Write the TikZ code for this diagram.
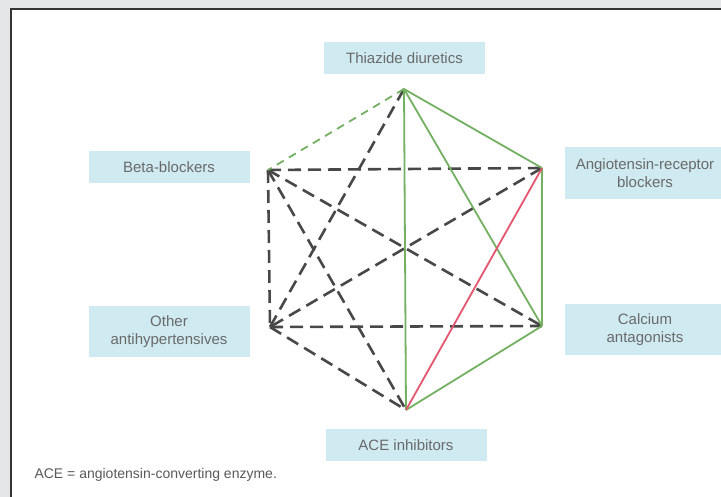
\documentclass[tikz,border=0pt]{standalone}
\usepackage{fontspec}
\setmainfont{Liberation Sans}
\usepackage{tikz}
\usepackage{color}

\definecolor{framegray}{HTML}{E4E6E8}
\definecolor{boxblue}{HTML}{CFEAF1}
\definecolor{labelgray}{HTML}{6A6A6A}
\definecolor{combogreen}{HTML}{74B062}
\definecolor{combored}{HTML}{E2566E}
\definecolor{combodark}{HTML}{484848}

\tikzset{
  drugbox/.style={fill=boxblue, text=labelgray, minimum width=161pt,
    minimum height=32pt, align=center, inner sep=2pt,
    font=\fontsize{15}{18}\selectfont},
  preferred/.style={combogreen, line width=1.8pt},
  useful/.style={combogreen, line width=1.8pt, dash pattern=on 8pt off 6pt},
  notrec/.style={combored, line width=1.8pt},
  possible/.style={combodark, line width=2.6pt, dash pattern=on 13pt off 7pt},
}

\begin{document}
\begin{tikzpicture}[x=1pt,y=-1pt]
    \useasboundingbox (0,0) rectangle (721,497);
    \fill[framegray] (0,0) rectangle (721,497);
    \draw[fill=white, draw=black!80, line width=1.6pt] (11,9) rectangle (740,520);

    % Drug classes
    \node[drugbox] (thiazide) at (404.5,58.5) {Thiazide diuretics};
    \node[drugbox] (beta) at (169,167) {Beta-blockers};
    \node[drugbox, minimum height=52pt] (arb) at (645,173) {Angiotensin-receptor\\blockers};
    \node[drugbox, minimum height=51pt] (other) at (169,331.5) {Other\\antihypertensives};
    \node[drugbox, minimum height=51pt] (calcium) at (645,329.5) {Calcium\\antagonists};
    \node[drugbox] (ace) at (406,445) {ACE inhibitors};

    % Corners of the hexagon
    \coordinate (T) at (404,89);
    \coordinate (B) at (268,170);
    \coordinate (A) at (542,168);
    \coordinate (O) at (270,327);
    \coordinate (C) at (542,326);
    \coordinate (E) at (406,410);

    % Possible combinations
    \draw[possible] (B) -- (A);
    \draw[possible] (B) -- (O);
    \draw[possible] (B) -- (C);
    \draw[possible] (B) -- (E);
    \draw[possible] (T) -- (O);
    \draw[possible] (A) -- (O);
    \draw[possible] (O) -- (C);
    \draw[possible] (O) -- (E);

    % Useful combination with limitations
    \draw[useful] (T) -- (B);

    % Preferred combinations
    \draw[preferred] (T) -- (A);
    \draw[preferred] (T) -- (C);
    \draw[preferred] (T) -- (E);
    \draw[preferred] (A) -- (C);
    \draw[preferred] (C) -- (E);

    % Not recommended
    \draw[notrec] (A) -- (E);

    \node[anchor=west, text=black!65, font=\fontsize{14}{16}\selectfont] (note) at (31,475) {ACE = angiotensin-converting enzyme.};
\end{tikzpicture}
\end{document}
